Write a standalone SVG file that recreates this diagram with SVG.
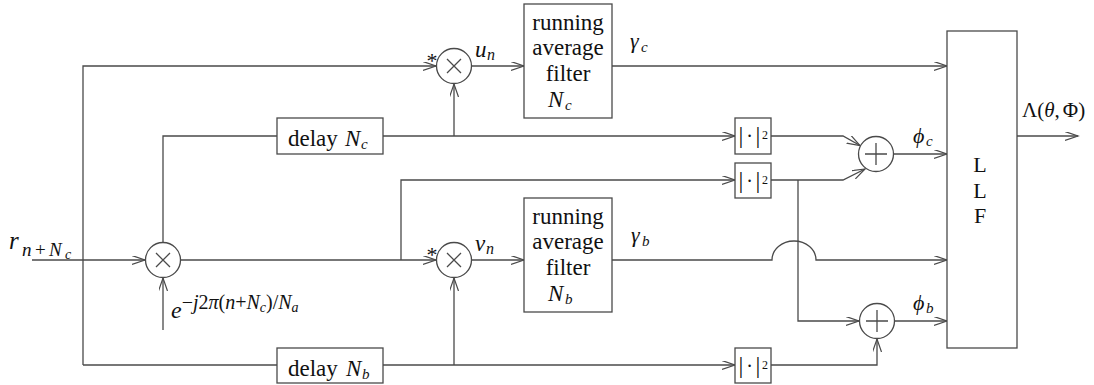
<svg xmlns="http://www.w3.org/2000/svg" width="1094" height="385" viewBox="0 0 1094 385">
<style>
  .ln{fill:none;stroke:#4a4a4a;stroke-width:1.3}
  .bx{fill:#fff;stroke:#4a4a4a;stroke-width:1.3}
  .t{font-family:"Liberation Serif","DejaVu Serif",serif;fill:#111}
  .rm{font-size:23px}
  .it{font-style:italic}
  .mid{text-anchor:middle}
  .bar{font-size:24px;text-anchor:middle}
</style>
<defs>
  <marker id="arr" markerWidth="16" markerHeight="12" refX="13" refY="4.5" orient="auto" markerUnits="userSpaceOnUse">
    <path d="M0,0 L13,4.5 L0,9" fill="none" stroke="#4a4a4a" stroke-width="1.2"/>
  </marker>
</defs>
<rect width="1094" height="385" fill="#fff"/>

<g id="connectors">
  <path class="ln" d="M32,260 H145" marker-end="url(#arr)"/>
  <path class="ln" d="M83,365 V66 H436" marker-end="url(#arr)"/>
  <path class="ln" d="M83,365 H277"/>
  <path class="ln" d="M383,365 H735" marker-end="url(#arr)"/>
  <path class="ln" d="M454,365 V278" marker-end="url(#arr)"/>
  <path class="ln" d="M163,242.5 V136 H277"/>
  <path class="ln" d="M383,136 H735" marker-end="url(#arr)"/>
  <path class="ln" d="M454,136 V84" marker-end="url(#arr)"/>
  <path class="ln" d="M180.5,260 H436" marker-end="url(#arr)"/>
  <path class="ln" d="M401,260 V180 H735" marker-end="url(#arr)"/>
  <path class="ln" d="M163,330 V278" marker-end="url(#arr)"/>
  <path class="ln" d="M471.5,66 H524" marker-end="url(#arr)"/>
  <path class="ln" d="M471.5,260 H524" marker-end="url(#arr)"/>
  <path class="ln" d="M612,66 H947" marker-end="url(#arr)"/>
  <path class="ln" d="M612,260 H772 A22,19 0 0 1 816,260 H947" marker-end="url(#arr)"/>
  <path class="ln" d="M771,136 H843 L860,145.5" marker-end="url(#arr)"/>
  <path class="ln" d="M771,180 H843 L865,169" marker-end="url(#arr)"/>
  <path class="ln" d="M798,180 V321 H859" marker-end="url(#arr)"/>
  <path class="ln" d="M771,365 H877 V339" marker-end="url(#arr)"/>
  <path class="ln" d="M893.5,154 H947" marker-end="url(#arr)"/>
  <path class="ln" d="M894.5,321 H947" marker-end="url(#arr)"/>
  <path class="ln" d="M1017,136 H1078" marker-end="url(#arr)"/>
</g>

<g id="input-label">
  <text class="t it" x="9" y="249" font-size="25">r</text>
  <text class="t it" x="22" y="256" font-size="19">n</text>
  <text class="t" x="35" y="256" font-size="19">+</text>
  <text class="t it" x="49" y="256" font-size="19">N</text>
  <text class="t it" x="65" y="259" font-size="14">c</text>
</g>

<g id="exp-label">
  <text class="t" x="171" y="318" font-size="24"><tspan class="it">e</tspan><tspan font-size="20" dy="-9">−</tspan><tspan font-size="20" class="it">j</tspan><tspan font-size="20">2</tspan><tspan font-size="20" class="it">π</tspan><tspan font-size="20">(</tspan><tspan font-size="20" class="it">n</tspan><tspan font-size="20">+</tspan><tspan font-size="20" class="it">N</tspan><tspan font-size="14" class="it" dy="3">c</tspan><tspan font-size="20" dy="-3">)/</tspan><tspan font-size="20" class="it">N</tspan><tspan font-size="14" class="it" dy="3">a</tspan></text>
</g>

<g id="mult1">
  <circle class="bx" cx="163" cy="260" r="17.5"/>
  <path class="ln" d="M156,253 L170,267 M170,253 L156,267"/>
</g>

<g id="mult-u">
  <circle class="bx" cx="454" cy="66" r="17.5"/>
  <path class="ln" d="M447,59 L461,73 M461,59 L447,73"/>
  <text class="t mid" x="432" y="68" font-size="22">*</text>
  <text class="t it" x="475" y="57" font-size="23">u</text>
  <text class="t it" x="487" y="60" font-size="16">n</text>
</g>

<g id="mult-v">
  <circle class="bx" cx="454" cy="260" r="17.5"/>
  <path class="ln" d="M447,253 L461,267 M461,253 L447,267"/>
  <text class="t mid" x="432" y="262" font-size="22">*</text>
  <text class="t it" x="475" y="251" font-size="23">v</text>
  <text class="t it" x="486" y="254" font-size="16">n</text>
</g>

<g id="delay-c">
  <rect class="bx" x="277" y="118" width="106" height="36"/>
  <text class="t rm" x="288" y="146">delay</text>
  <text class="t rm it" x="345" y="146">N</text>
  <text class="t it" x="361" y="149" font-size="15">c</text>
</g>

<g id="delay-b">
  <rect class="bx" x="277" y="348" width="106" height="35"/>
  <text class="t rm" x="288" y="376">delay</text>
  <text class="t rm it" x="346" y="376">N</text>
  <text class="t it" x="362" y="379" font-size="15">b</text>
</g>

<g id="filter-c">
  <rect class="bx" x="524" y="4" width="88" height="114"/>
  <text class="t rm mid" x="568" y="30">running</text>
  <text class="t rm mid" x="568" y="55">average</text>
  <text class="t rm mid" x="568" y="81">filter</text>
  <text class="t rm it" x="548" y="107">N</text>
  <text class="t it" x="565" y="110" font-size="15">c</text>
  <text class="t it" x="630" y="48" font-size="22">γ</text>
  <text class="t it" x="641" y="52" font-size="15">c</text>
</g>

<g id="filter-b">
  <rect class="bx" x="524" y="198" width="88" height="114"/>
  <text class="t rm mid" x="568" y="224">running</text>
  <text class="t rm mid" x="568" y="249">average</text>
  <text class="t rm mid" x="568" y="275">filter</text>
  <text class="t rm it" x="548" y="301">N</text>
  <text class="t it" x="565" y="304" font-size="15">b</text>
  <text class="t it" x="631" y="242" font-size="22">γ</text>
  <text class="t it" x="642" y="246" font-size="15">b</text>
</g>

<g id="abs1">
  <rect class="bx" x="735" y="118" width="36" height="36"/>
  <text class="t bar" x="741" y="143">|</text>
  <text class="t mid" x="749.5" y="143" font-size="20">·</text>
  <text class="t bar" x="758" y="143">|</text>
  <text class="t" x="762" y="139" font-size="12">2</text>
</g>

<g id="abs2">
  <rect class="bx" x="735" y="163" width="36" height="35"/>
  <text class="t bar" x="741" y="188">|</text>
  <text class="t mid" x="749.5" y="188" font-size="20">·</text>
  <text class="t bar" x="758" y="188">|</text>
  <text class="t" x="762" y="184" font-size="12">2</text>
</g>

<g id="abs3">
  <rect class="bx" x="735" y="348" width="36" height="35"/>
  <text class="t bar" x="741" y="373">|</text>
  <text class="t mid" x="749.5" y="373" font-size="20">·</text>
  <text class="t bar" x="758" y="373">|</text>
  <text class="t" x="762" y="369" font-size="12">2</text>
</g>

<g id="sum-c">
  <circle class="bx" cx="876" cy="154" r="17.5"/>
  <path class="ln" d="M865,154 H887 M876,143 V165"/>
  <text class="t it" x="913" y="143" font-size="22">ϕ</text>
  <text class="t it" x="926" y="146" font-size="15">c</text>
</g>

<g id="sum-b">
  <circle class="bx" cx="877" cy="321" r="17.5"/>
  <path class="ln" d="M866,321 H888 M877,310 V332"/>
  <text class="t it" x="913" y="310" font-size="22">ϕ</text>
  <text class="t it" x="926" y="313" font-size="15">b</text>
</g>

<g id="llf">
  <rect class="bx" x="947" y="31" width="70" height="317"/>
  <text class="t mid" x="980" y="172" font-size="22">L</text>
  <text class="t mid" x="980" y="198" font-size="22">L</text>
  <text class="t mid" x="980" y="223" font-size="22">F</text>
  <text class="t" x="1022" y="117" font-size="21">Λ(<tspan class="it">θ</tspan>,<tspan dx="3">Φ)</tspan></text>
</g>
</svg>
